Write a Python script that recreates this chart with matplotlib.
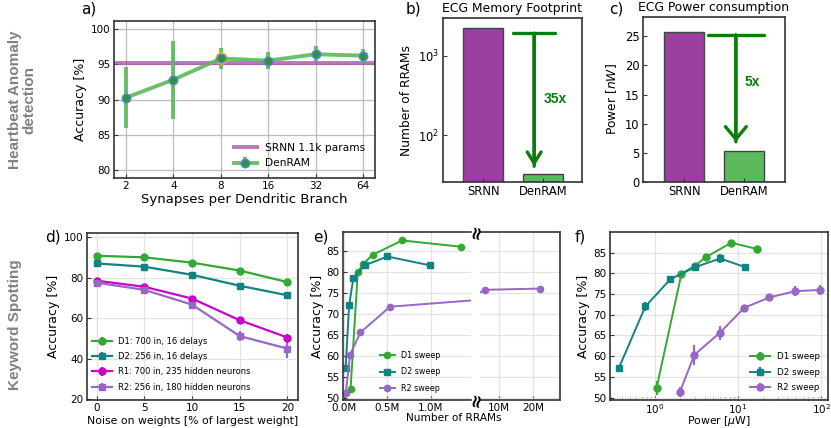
import numpy as np
import matplotlib
matplotlib.use('Agg')
import matplotlib.pyplot as plt
from matplotlib.ticker import FixedLocator, NullLocator

# ---- data ----
# a) heartbeat anomaly detection
synapses = [2, 4, 8, 16, 32, 64]
denram_acc = [90.25, 92.8, 95.8, 95.5, 96.4, 96.2]
denram_err = [4.3, 5.5, 1.5, 1.2, 1.1, 1.0]
srnn_acc = 95.1

# b) / c) ECG footprint and power
models = ['SRNN', 'DenRAM']
rrams = [2220, 32.5]
power_nw = [25.8, 5.35]

# d) noise robustness
noise = [0, 5, 10, 15, 20]
d1_acc = [90.8, 90.0, 87.4, 83.5, 77.8]
d1_err = [0.6, 0.6, 0.6, 0.6, 0.8]
d2_acc = [87.0, 85.4, 81.4, 76.0, 71.3]
d2_err = [0.6, 0.6, 0.8, 0.8, 0.8]
r1_acc = [78.5, 75.5, 69.7, 59.0, 50.5]
r1_err = [0.8, 0.8, 1.0, 1.0, 1.8]
r2_acc = [77.5, 74.0, 66.7, 51.2, 45.0]
r2_err = [0.8, 0.8, 1.2, 2.3, 4.8]

# e) accuracy vs number of RRAMs
d1_rram = [0.077e6, 0.16e6, 0.22e6, 0.33e6, 0.67e6, 1.35e6]
d1_sweep = [52.3, 79.9, 81.8, 84.0, 87.4, 85.9]
d2_rram = [0.02e6, 0.06e6, 0.11e6, 0.24e6, 0.5e6, 0.99e6]
d2_sweep = [57.1, 72.0, 78.6, 81.5, 83.6, 81.5]
r2_rram = [0.023e6, 0.07e6, 0.19e6, 0.53e6, 2.1e6, 5.9e6, 22e6]
r2_sweep = [51.3, 60.3, 65.6, 71.7, 74.2, 75.7, 76.0]

# f) accuracy vs power
d1_pow = [1.05, 2.09, 3.0, 4.16, 8.3, 16.8]
d1_perr = [1.6, 0.5, 0.5, 0.6, 0.7, 0.5]
d2_pow = [0.37, 0.77, 1.54, 3.04, 6.1, 12.2]
d2_perr = [0.8, 1.0, 0.7, 0.8, 1.0, 0.5]
r2_pow = [2.0, 2.98, 6.0, 11.9, 23.8, 48.5, 97]
r2_perr = [1.2, 2.5, 1.8, 0.5, 0.5, 1.2, 1.2]

C_PURPLE = '#9b3f9e'
C_GREEN = '#5cb85c'
C_D1 = '#33a833'
C_D2 = '#128383'
C_R1 = '#cc00cc'
C_R2 = '#9766c6'
C_ARROW = '#0a7d0a'

W, H = 831, 428
fig = plt.figure(figsize=(W / 100, H / 100), dpi=100)


def add_ax(l, t, r, b):
    return fig.add_axes([l / W, 1 - b / H, (r - l) / W, (b - t) / H])


def style(ax, grid_color=None, size=7.5):
    for s in ax.spines.values():
        s.set_color('#333333')
        s.set_linewidth(1.2)
    ax.tick_params(direction='in', labelsize=size, length=3, color='#333333', pad=2.5)
    if grid_color:
        ax.grid(True, color=grid_color, lw=0.9)
        ax.set_axisbelow(True)


def reduction_arrow(ax, x, y0, y1, bar_w, head_l, head_w):
    ax.annotate('', xy=(x, y1), xytext=(x, y0),
                arrowprops=dict(arrowstyle=f'->, head_length={head_l}, head_width={head_w}',
                                color=C_ARROW, lw=2.4, shrinkA=0, shrinkB=0))
    ax.annotate('', xy=(x, y1), xytext=(x, y0),
                arrowprops=dict(arrowstyle=f']-, widthA={bar_w}, lengthA=0',
                                color=C_ARROW, lw=2.4, shrinkA=0, shrinkB=0))


# ---- a) ----
ax = add_ax(114, 21, 375, 178)
style(ax, '#bdbdbd')
ax.axhline(srnn_acc, color=C_PURPLE, lw=2.8, alpha=0.7, label='SRNN 1.1k params')
ax.errorbar(synapses, denram_acc, yerr=denram_err, color=C_GREEN, lw=2.8,
            elinewidth=2.8, alpha=0.9, marker='o', ms=6, mfc='#2e8b3a',
            mec='#4a86c8', mew=1.2, label='DenRAM')
ax.plot(synapses[2], denram_acc[2], 'o', ms=7, mfc='#2e8b3a', mec='#f5c400', mew=1.8)
ax.set_xscale('log', base=2)
ax.xaxis.set_major_locator(FixedLocator(synapses))
ax.xaxis.set_minor_locator(NullLocator())
ax.set_xticklabels([str(s) for s in synapses])
ax.set_xlim(2 ** 0.75, 2 ** 6.25)
ax.set_ylim(78.9, 101.1)
ax.set_yticks([80, 85, 90, 95, 100])
ax.set_xlabel('Synapses per Dendritic Branch', fontsize=9.5, labelpad=1)
ax.set_ylabel('Accuracy [%]', fontsize=9, labelpad=3)
ax.legend(loc='lower right', frameon=False, fontsize=7.7, handlelength=2.1)

# ---- b) ----
ax = add_ax(443, 18, 582, 182)
style(ax, size=8.3)
ax.bar([0, 1], rrams, width=0.67, color=[C_PURPLE, C_GREEN], edgecolor='#444444', lw=1)
ax.set_yscale('log')
ax.set_ylim(26, 2970)
ax.set_xlim(-0.675, 1.65)
ax.set_xticks([0, 1])
ax.set_xticklabels(models)
ax.yaxis.set_minor_locator(NullLocator())
ax.set_ylabel('Number of RRAMs', fontsize=8.8)
ax.set_title('ECG Memory Footprint', fontsize=8.9, pad=4)
reduction_arrow(ax, 0.85, 1906, 41, 1.5, 0.8, 0.5)
ax.text(1.2, 290, '35x', color=C_ARROW, fontsize=10, fontweight='bold', ha='center',
        va='center', family='Liberation Sans')

# ---- c) ----
ax = add_ax(643, 17, 785, 182)
style(ax, size=8.3)
ax.bar([0, 1], power_nw, width=0.67, color=[C_PURPLE, C_GREEN], edgecolor='#444444', lw=1)
ax.set_ylim(0, 28.3)
ax.set_xlim(-0.69, 1.68)
ax.set_xticks([0, 1])
ax.set_xticklabels(models)
ax.set_ylabel('Power [$nW$]', fontsize=8.8)
ax.set_title('ECG Power consumption', fontsize=8.9, pad=4)
reduction_arrow(ax, 0.86, 25.2, 6.9, 2.0, 0.9, 0.75)
ax.text(1.14, 17.2, '5x', color=C_ARROW, fontsize=10, fontweight='bold', ha='center',
        va='center', family='Liberation Sans')

# ---- d) ----
ax = add_ax(87, 233, 298, 400)
style(ax, '#e3e3e3')
kw = dict(lw=1.6, ms=5, elinewidth=1.6)
ax.errorbar(noise, d1_acc, yerr=d1_err, color=C_D1, marker='o', label='D1: 700 in, 16 delays', **kw)
ax.errorbar(noise, d2_acc, yerr=d2_err, color=C_D2, marker='s', label='D2: 256 in, 16 delays', **kw)
ax.errorbar(noise, r1_acc, yerr=r1_err, color=C_R1, marker='o', label='R1: 700 in, 235 hidden neurons', **kw)
ax.errorbar(noise, r2_acc, yerr=r2_err, color=C_R2, marker='s', label='R2: 256 in, 180 hidden neurons', **kw)
ax.set_xlim(-1, 21.1)
ax.set_ylim(19.7, 102)
ax.set_xticks(noise)
ax.set_yticks([20, 40, 60, 80, 100])
ax.set_xlabel('Noise on weights [% of largest weight]', fontsize=7.8, labelpad=2)
ax.set_ylabel('Accuracy [%]', fontsize=9, labelpad=3)
ax.legend(loc='lower left', bbox_to_anchor=(0.01, 0.03), borderaxespad=0, frameon=False,
          fontsize=6, handlelength=2.3, labelspacing=0.75)

# ---- e) broken x axis ----
ax1 = add_ax(343, 232, 471, 400)
ax2 = add_ax(480, 232, 560, 400)
for a in (ax1, ax2):
    style(a, '#e3e3e3')
    kw = dict(lw=1.4, ms=4.5)
    a.plot(d1_rram, d1_sweep, color=C_D1, marker='o', label='D1 sweep', **kw)
    a.plot(d2_rram, d2_sweep, color=C_D2, marker='s', label='D2 sweep', **kw)
    a.plot(r2_rram, r2_sweep, color=C_R2, marker='o', label='R2 sweep', **kw)
    a.set_ylim(49.6, 89.4)
    a.set_yticks([50, 55, 60, 65, 70, 75, 80, 85])
ax1.set_xlim(-0.01e6, 1.46e6)
ax1.set_xticks([0, 0.5e6, 1.0e6])
ax1.set_xticklabels(['0.0M', '0.5M', '1.0M'])
ax1.spines['right'].set_visible(False)
ax1.set_ylabel('Accuracy [%]', fontsize=9, labelpad=2)
ax1.legend(loc='lower left', bbox_to_anchor=(0.26, 0.025), borderaxespad=0, frameon=False,
           fontsize=5.8, handlelength=1.9, labelspacing=0.9)
ax2.set_xlim(4.4e6, 28e6)
ax2.set_xticks([10e6, 20e6])
ax2.set_xticklabels(['10M', '20M'])
ax2.spines['left'].set_visible(False)
ax2.tick_params(axis='y', left=False, labelleft=False)
fig.text(454 / W, 1 - 418 / H, 'Number of RRAMs', ha='center', va='center', fontsize=7.6)
for yy in (232, 400):
    fig.text(476 / W, 1 - yy / H, '\u2248', ha='center', va='center', fontsize=13,
             fontweight='bold', rotation=80)

# ---- f) ----
ax = add_ax(610, 232, 828, 400)
style(ax, '#e3e3e3')
kw = dict(lw=1.4, ms=5, elinewidth=1.6)
ax.errorbar(d1_pow, d1_sweep, yerr=d1_perr, color=C_D1, marker='o', label='D1 sweep', **kw)
ax.errorbar(d2_pow, d2_sweep, yerr=d2_perr, color=C_D2, marker='s', label='D2 sweep', **kw)
ax.errorbar(r2_pow, r2_sweep, yerr=r2_perr, color=C_R2, marker='o', label='R2 sweep', **kw)
ax.set_xscale('log')
ax.set_xlim(0.29, 120)
ax.set_ylim(49.4, 90)
ax.set_yticks([50, 55, 60, 65, 70, 75, 80, 85])
ax.tick_params(which='minor', direction='in', length=2, color='#333333')
ax.tick_params(axis='x', pad=1.5)
ax.set_xlabel(r'Power [$\mu$W]', fontsize=7.8, labelpad=-1)
ax.set_ylabel('Accuracy [%]', fontsize=9, labelpad=2)
ax.legend(loc='lower right', frameon=False, fontsize=6.3, handlelength=2.3, labelspacing=0.75)

# ---- panel letters and row labels ----
for txt, x, y in [('a)', 89, 9), ('b)', 413, 9), ('c)', 616, 9),
                  ('d)', 53, 237), ('e)', 321, 237), ('f)', 580, 237)]:
    fig.text(x / W, 1 - y / H, txt, ha='center', va='center', fontsize=11)

fig.text(22 / W, 1 - 100 / H, 'Heartbeat Anomaly\ndetection', rotation=90, ha='center',
         va='center', fontsize=11, color='#808080', fontweight='bold',
         family='Liberation Sans', linespacing=1.0)
fig.text(15 / W, 1 - 325 / H, 'Keyword Spotting', rotation=90, ha='center', va='center',
         fontsize=11, color='#808080', fontweight='bold', family='Liberation Sans')

fig.savefig('out.png', dpi=100)
